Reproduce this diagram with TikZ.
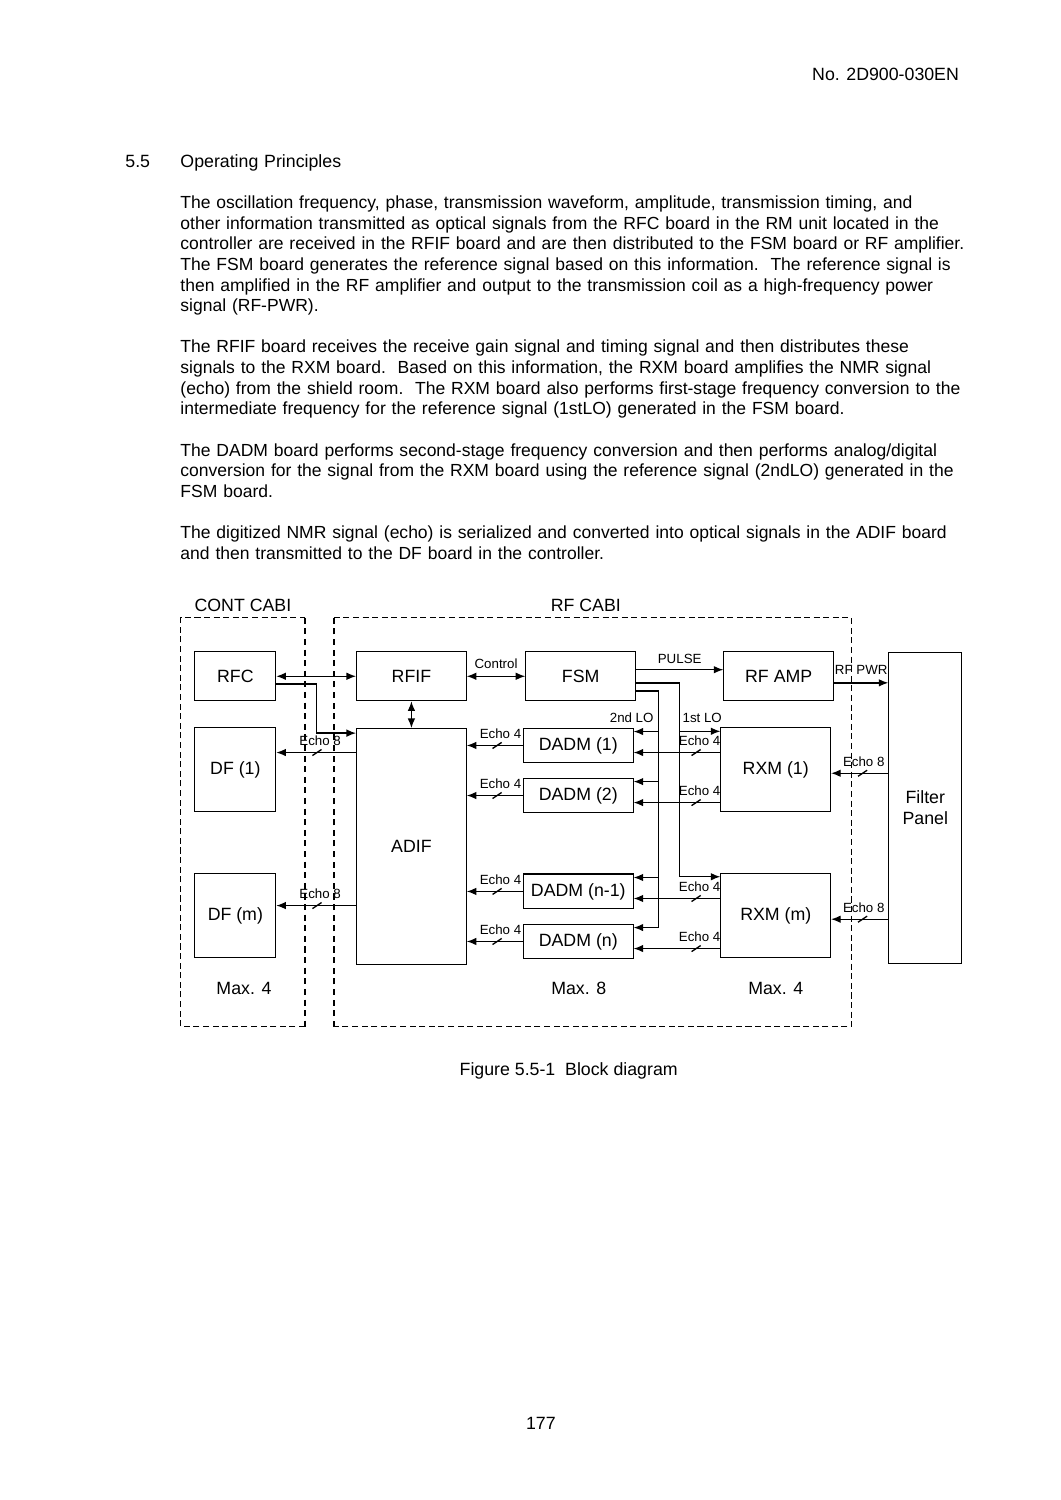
\documentclass[tikz,border=0pt]{standalone}
\usepackage{fontspec}
\setmainfont{Liberation Sans}
\usetikzlibrary{positioning}
\usetikzlibrary{arrows.meta}
\usetikzlibrary{decorations.markings}
\tikzset{
	block/.style={
		draw,
		rectangle,
		align=center,
		minimum width=21.7mm,
		minimum height=9.7mm,
		inner sep=0pt,
		line width=.6pt,
		font=\fontsize{10}{11.8}\selectfont
	},
	narrow/.style={block, minimum width=16mm},
	lbl/.style={font=\fontsize{7.5}{9}\selectfont, inner sep=0pt},
	cabi/.style={line width=.6pt, dash pattern=on 1.2mm off .7mm},
	bus/.style={
		postaction={decorate},
		decoration={markings, mark=at position #1 with {\draw[-] (-.9mm,-.6mm) -- (.9mm,.6mm);}}
	}
}

\begin{document}
\begin{tikzpicture}[x=1mm, y=-1mm, >={Latex[length=1.9mm,width=1.5mm]}, line width=.75pt]
	\path[use as bounding box, fill=white] (0,0) rectangle (210,297);

	\node[anchor=base east, inner sep=0pt] (docno) at (190,15.9) {No. 2D900-030EN};
	\node[anchor=base west, inner sep=0pt] (secno) at (24.7,33.1) {5.5};
	\node[anchor=base west, inner sep=0pt, text width=170mm, align=left, font=\fontsize{9.87}{11.63}\selectfont] (body) at (35.6,33.1) {{\fontsize{10}{11.63}\selectfont Operating Principles}\\[11.63pt]
The oscillation frequency, phase, transmission waveform, amplitude, transmission timing, and\\
other information transmitted as optical signals from the RFC board in the RM unit located in the\\
controller are received in the RFIF board and are then distributed to the FSM board or RF amplifier.\\
The FSM board generates the reference signal based on this information.\ \ The reference signal is\\
then amplified in the RF amplifier and output to the transmission coil as a high-frequency power\\
signal (RF-PWR).\\[11.63pt]
The RFIF board receives the receive gain signal and timing signal and then distributes these\\
signals to the RXM board.\ \ Based on this information, the RXM board amplifies the NMR signal\\
(echo) from the shield room.\ \ The RXM board also performs first-stage frequency conversion to the\\
intermediate frequency for the reference signal (1stLO) generated in the FSM board.\\[11.63pt]
The DADM board performs second-stage frequency conversion and then performs analog/digital\\
conversion for the signal from the RXM board using the reference signal (2ndLO) generated in the\\
FSM board.\\[11.63pt]
The digitized NMR signal (echo) is serialized and converted into optical signals in the ADIF board\\
and then transmitted to the DF board in the controller.};

	\draw[cabi] (60.4,203.3) -- (35.8,203.3) -- (35.8,122.3) -- (60.4,122.3);
	\draw[cabi, line width=.9pt, dash pattern=on 1.2mm off .9mm] (60.4,122.3) -- (60.4,203.3);
	\draw[cabi] (66.1,122.3) -- (168.6,122.3) -- (168.6,203.3) -- (66.1,203.3);
	\draw[cabi, line width=.9pt, dash pattern=on 1.2mm off .9mm] (66.1,203.3) -- (66.1,122.3);
	\node[anchor=base] (cont) at (48.1,121.1) {CONT CABI};
	\node[anchor=base] (rfcabi) at (116,121.1) {RF CABI};

	\node[narrow] (RFC) at (46.6,133.9) {RFC};
	\node[block, right=15.8mm of RFC] (RFIF) {RFIF};
	\node[block, right=11.6mm of RFIF] (FSM) {FSM};
	\node[block, right=17.3mm of FSM] (RFAMP) {RF AMP};
	\node[narrow, minimum height=16.6mm] (DF1) at (46.6,152.4) {DF (1)};
	\node[narrow, minimum height=16.6mm] (DFm) at (46.6,181.3) {DF (m)};
	\node[block, minimum height=46.7mm, below=5.3mm of RFIF] (ADIF) {ADIF};
	\node[block, minimum height=6.9mm] (DADM1) at (114.5,147.6) {DADM (1)};
	\node[block, minimum height=6.9mm, below=2.8mm of DADM1] (DADM2) {DADM (2)};
	\node[block, minimum height=6.9mm] (DADMn1) at (114.5,176.5) {DADM (n-1)};
	\node[block, minimum height=6.9mm, below=2.8mm of DADMn1] (DADMn) {DADM (n)};
	\node[block, minimum height=16.6mm] (RXM1) at (153.6,152.4) {RXM (1)};
	\node[block, minimum height=16.6mm] (RXMm) at (153.6,181.3) {RXM (m)};
	\node[block, minimum width=14.4mm, minimum height=61.6mm] (FP) at (183.2,160) {Filter\\ Panel};

	\draw[<->] (RFC.east) -- (RFIF.west);
	\draw[->] ([yshift=-1.5mm]RFC.east) -- ++(7.9,0) |- ([yshift=-1mm]ADIF.north west);
	\draw[<->] (RFIF.south) -- (ADIF.north);
	\draw[<->] (RFIF.east) -- (FSM.west) node[lbl, midway, above=1.4mm] {Control};
	\draw[->] ([yshift=1.3mm]FSM.east) -- ([yshift=1.3mm]RFAMP.west) node[lbl, midway, above=1.1mm] {PULSE};
	\draw[->] ([yshift=-1.3mm]RFAMP.east) -- ([yshift=-1.3mm]RFAMP.east -| FP.west) node[lbl, midway, above=1.6mm] {RF PWR};

	\draw[->] ([yshift=-1.3mm]FSM.east) -- ++(8.6,0) coordinate (lo1) |- ([yshift=-.7mm]RXMm.north west);
	\draw[->] ([yshift=-.8mm]RXM1.north west -| lo1) -- ([yshift=-.8mm]RXM1.north west) node[lbl, pos=0, anchor=south west, xshift=.5mm, yshift=1.6mm] {1st LO};
	\draw[->] ([yshift=-2.9mm]FSM.east) -- ++(4.4,0) coordinate (lo2) |- ([yshift=-.8mm]DADMn.north east);
	\foreach \dadm in {DADM1, DADM2, DADMn1}
		\draw[->] ([yshift=-.8mm]\dadm.north east -| lo2) -- ([yshift=-.8mm]\dadm.north east);
	\node[lbl, anchor=south east] (lo2lbl) at ([xshift=-.8mm, yshift=.8mm]DADM1.north east -| lo2) {2nd LO};

	\foreach \dadm in {DADM1, DADM2, DADMn1, DADMn}
		\draw[->, bus=.46] (\dadm.west) -- (\dadm.west -| ADIF.east) node[lbl, pos=.4, above=1.3mm] {Echo 4};
	\foreach \rxm/\dadm in {RXM1/DADM1, RXM1/DADM2, RXMm/DADMn1, RXMm/DADMn}
		\draw[->, bus=.28] ([yshift=-1.4mm]\dadm.east -| \rxm.west) -- ([yshift=-1.4mm]\dadm.east) node[lbl, pos=.24, above=1.2mm] {Echo 4};
	\foreach \df/\dy in {DF1/3.4, DFm/2}
		\draw[->, bus=.49] ([yshift=\dy mm]\df.east -| ADIF.west) -- ([yshift=\dy mm]\df.east) node[lbl, pos=.45, above=1.2mm] {Echo 8};
	\foreach \rxm in {RXM1, RXMm}
		\draw[->, bus=.45] ([yshift=-.7mm]\rxm.east -| FP.west) -- ([yshift=-.7mm]\rxm.east) node[lbl, pos=.43, above=1.2mm] {Echo 8};

	\foreach \x/\m in {48.3/4, 114.6/8, 153.6/4}
		\node[anchor=base] at (\x,196.9) {Max. \m};

	\node[anchor=base] (caption) at (112.6,213) {Figure 5.5-1\ \ Block diagram};
	\node[anchor=base] (pageno) at (107.1,283) {177};
\end{tikzpicture}
\end{document}
